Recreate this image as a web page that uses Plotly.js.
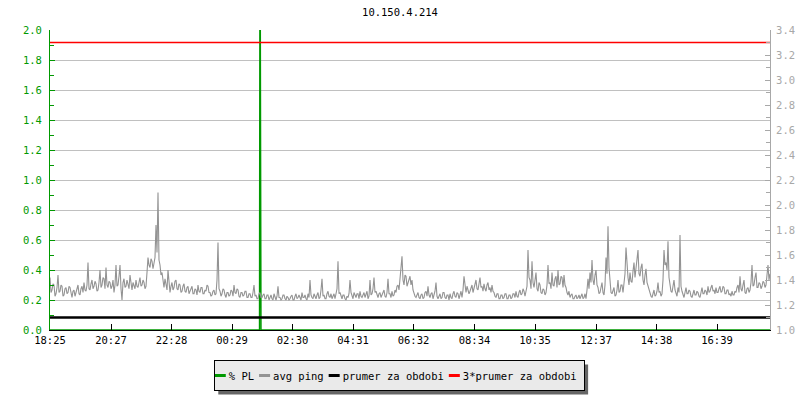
<!DOCTYPE html>
<html><head><meta charset="utf-8">
<script src="https://cdn.plot.ly/plotly-3.0.1.min.js"></script>
<style>html,body{margin:0;padding:0;background:#fff}#chart{width:800px;height:400px}</style>
</head><body><div id="chart"></div>
<script>
const chartTitle = '10.150.4.214';
const startLabel = '18:25';
const periodMinutes = 1440;
const sampleStep = 2; // minutes between ping samples
const pingValues = [
1.42,1.30,1.32,1.37,1.36,1.27,1.29,1.34,1.44,1.30,1.31,1.36,1.35,1.27,1.28,1.33,1.34,1.29,1.30,1.35,
1.34,1.29,1.26,1.31,1.32,1.27,1.30,1.35,1.36,1.29,1.28,1.33,1.35,1.30,1.38,1.32,1.31,1.36,1.54,1.33,
1.32,1.37,1.40,1.33,1.35,1.39,1.37,1.31,1.32,1.38,1.48,1.34,1.36,1.42,1.41,1.33,1.50,1.36,1.34,1.39,
1.38,1.33,1.35,1.40,1.30,1.36,1.52,1.35,1.36,1.43,1.52,1.33,1.24,1.38,1.41,1.34,1.35,1.40,1.37,1.33,
1.44,1.36,1.32,1.38,1.36,1.33,1.40,1.35,1.34,1.39,1.42,1.35,1.36,1.40,1.38,1.33,1.35,1.46,1.58,1.52,
1.50,1.57,1.55,1.49,1.53,1.58,1.84,1.62,2.10,1.56,1.52,1.44,1.46,1.38,1.34,1.41,1.37,1.32,1.48,1.36,
1.30,1.35,1.38,1.32,1.34,1.39,1.40,1.33,1.32,1.37,1.36,1.30,1.31,1.35,1.37,1.31,1.30,1.34,1.35,1.29,
1.31,1.34,1.35,1.29,1.29,1.33,1.32,1.28,1.36,1.31,1.30,1.34,1.34,1.29,1.29,1.32,1.31,1.36,1.35,1.30,
1.30,1.27,1.28,1.31,1.32,1.28,1.29,1.40,1.70,1.33,1.31,1.27,1.29,1.33,1.32,1.28,1.26,1.30,1.30,1.27,
1.28,1.32,1.31,1.27,1.36,1.30,1.29,1.33,1.32,1.27,1.26,1.30,1.30,1.27,1.28,1.31,1.31,1.26,1.26,1.29,
1.29,1.26,1.26,1.30,1.36,1.27,1.28,1.25,1.25,1.29,1.30,1.26,1.26,1.28,1.29,1.25,1.25,1.28,1.28,1.24,
1.26,1.28,1.25,1.24,1.29,1.26,1.24,1.27,1.35,1.26,1.26,1.24,1.25,1.28,1.28,1.25,1.24,1.27,1.26,1.24,
1.25,1.27,1.28,1.24,1.24,1.27,1.29,1.25,1.26,1.28,1.25,1.24,1.30,1.26,1.26,1.28,1.25,1.24,1.29,1.26,
1.40,1.28,1.26,1.25,1.29,1.27,1.25,1.28,1.30,1.25,1.26,1.32,1.41,1.27,1.28,1.25,1.25,1.29,1.31,1.27,
1.26,1.29,1.25,1.27,1.29,1.25,1.28,1.33,1.55,1.29,1.30,1.26,1.25,1.28,1.28,1.25,1.24,1.27,1.26,1.29,
1.40,1.30,1.28,1.25,1.30,1.27,1.26,1.29,1.29,1.25,1.31,1.27,1.26,1.28,1.30,1.26,1.28,1.31,1.25,1.27,
1.40,1.28,1.29,1.33,1.42,1.30,1.31,1.27,1.26,1.29,1.30,1.26,1.28,1.31,1.32,1.27,1.26,1.30,1.41,1.29,
1.29,1.26,1.31,1.27,1.28,1.32,1.30,1.35,1.36,1.32,1.41,1.45,1.59,1.40,1.36,1.44,1.43,1.35,1.38,1.42,
1.43,1.36,1.40,1.32,1.29,1.27,1.26,1.29,1.30,1.26,1.25,1.28,1.29,1.25,1.26,1.30,1.31,1.27,1.35,1.28,
1.26,1.29,1.30,1.25,1.28,1.31,1.38,1.27,1.25,1.28,1.29,1.25,1.26,1.30,1.30,1.26,1.25,1.28,1.28,1.24,
1.29,1.26,1.25,1.29,1.31,1.27,1.26,1.30,1.29,1.25,1.28,1.31,1.26,1.32,1.43,1.33,1.30,1.35,1.32,1.29,
1.31,1.35,1.36,1.30,1.34,1.38,1.40,1.33,1.32,1.37,1.42,1.34,1.35,1.31,1.37,1.33,1.31,1.36,1.38,1.32,
1.34,1.30,1.36,1.31,1.30,1.27,1.26,1.29,1.29,1.25,1.25,1.28,1.28,1.25,1.26,1.29,1.29,1.25,1.25,1.28,
1.28,1.25,1.26,1.29,1.29,1.26,1.31,1.27,1.26,1.30,1.32,1.28,1.29,1.33,1.31,1.27,1.30,1.35,1.64,1.42,
1.40,1.33,1.55,1.38,1.34,1.42,1.46,1.33,1.31,1.38,1.36,1.30,1.29,1.33,1.32,1.28,1.30,1.36,1.52,1.37,
1.38,1.33,1.46,1.36,1.35,1.41,1.43,1.34,1.48,1.36,1.37,1.43,1.42,1.34,1.44,1.36,1.34,1.30,1.28,1.31,
1.26,1.28,1.29,1.25,1.25,1.27,1.28,1.25,1.26,1.28,1.25,1.27,1.29,1.25,1.26,1.29,1.25,1.32,1.41,1.33,
1.46,1.38,1.56,1.40,1.36,1.44,1.48,1.36,1.34,1.29,1.30,1.34,1.38,1.30,1.28,1.36,1.58,1.45,1.83,1.50,
1.36,1.30,1.29,1.33,1.34,1.27,1.28,1.32,1.40,1.30,1.31,1.36,1.36,1.30,1.38,1.45,1.66,1.47,1.42,1.36,
1.46,1.39,1.38,1.47,1.54,1.42,1.48,1.56,1.64,1.45,1.43,1.50,1.53,1.40,1.36,1.44,1.49,1.38,1.35,1.31,
1.30,1.27,1.26,1.29,1.32,1.27,1.28,1.31,1.38,1.30,1.31,1.27,1.29,1.40,1.64,1.52,1.54,1.48,1.71,1.42,
1.36,1.31,1.30,1.35,1.40,1.32,1.29,1.27,1.34,1.30,1.76,1.35,1.31,1.28,1.26,1.30,1.34,1.29,1.29,1.32,
1.31,1.27,1.26,1.29,1.32,1.28,1.28,1.31,1.30,1.27,1.26,1.30,1.34,1.29,1.29,1.32,1.31,1.28,1.35,1.30,
1.31,1.34,1.36,1.31,1.32,1.29,1.34,1.30,1.30,1.33,1.35,1.30,1.31,1.35,1.34,1.29,1.29,1.32,1.32,1.28,
1.29,1.27,1.31,1.28,1.28,1.31,1.30,1.34,1.36,1.30,1.43,1.33,1.31,1.36,1.40,1.30,1.29,1.33,1.34,1.30,
1.32,1.38,1.52,1.35,1.36,1.42,1.46,1.34,1.34,1.38,1.37,1.33,1.35,1.39,1.38,1.34,1.36,1.44,1.52,1.40,
1.45
];
const plMinutes = [0, 419, 420, 421, 422, 1440];
const plValues  = [0, 0, 3, 1, 0, 0];
const avgMinutes = [0, 1440];
const avgPing = 1.1;
const avgPing3 = 3.3;
const tickLabels = ['18:25','20:27','22:28','00:29','02:30','04:31','06:32','08:34','10:35','12:37','14:38','16:39'];
const seriesNames = ['% PL', 'avg ping', 'prumer za obdobi', '3*prumer za obdobi'];

const toMin = s => { const [h, m] = s.split(':').map(Number); return h * 60 + m; };
const start = toMin(startLabel);
const tickVals = tickLabels.map(s => (toMin(s) - start + 1440) % 1440);
const pingMinutes = pingValues.map((_, i) => i * sampleStep);

const FONT = 'DejaVu Sans Mono, monospace';
const FS = 10.5;
const GREEN = '#009900', GREY = '#939393', LGREY = '#a8a8a8';

const traces = [
  {x: pingMinutes, y: pingValues, yaxis: 'y2', type: 'scatter', mode: 'lines', name: seriesNames[1],
   line: {color: GREY, width: 1.1, shape: 'linear'}, legendrank: 2},
  {x: avgMinutes, y: avgMinutes.map(() => avgPing), yaxis: 'y2', type: 'scatter', mode: 'lines', name: seriesNames[2],
   line: {color: '#000000', width: 2.5}, legendrank: 3},
  {x: avgMinutes, y: avgMinutes.map(() => avgPing3), yaxis: 'y2', type: 'scatter', mode: 'lines', name: seriesNames[3],
   line: {color: '#ff0000', width: 1.3}, legendrank: 4},
  {x: plMinutes, y: plValues, yaxis: 'y', type: 'scatter', mode: 'lines', name: seriesNames[0],
   line: {color: GREEN, width: 1.4}, legendrank: 1}
];

const layout = {
  width: 800, height: 400,
  margin: {l: 50, r: 30, t: 30, b: 70, pad: 0, autoexpand: false},
  paper_bgcolor: '#ffffff', plot_bgcolor: '#ffffff',
  font: {family: FONT, size: FS, color: '#000'},
  title: {text: chartTitle, x: 0.5, xanchor: 'center', y: 0.97, yanchor: 'middle', yref: 'container',
          font: {family: FONT, size: FS, color: '#000'}},
  showlegend: true,
  legend: {orientation: 'h', x: 0.485, xanchor: 'center', y: -0.1, yanchor: 'top',
           bgcolor: '#eaeaea', bordercolor: '#000', borderwidth: 1,
           font: {family: FONT, size: FS, color: '#000'}, traceorder: 'normal', itemwidth: 30},
  xaxis: {range: [0, periodMinutes], tickmode: 'array', tickvals: tickVals, ticktext: tickLabels,
          showgrid: false, zeroline: false, showline: true, linecolor: '#000', linewidth: 1,
          ticks: 'inside', ticklen: 6, tickcolor: '#000', tickfont: {family: FONT, size: FS, color: '#000'},
          fixedrange: true},
  yaxis: {range: [0, 2], dtick: 0.2, tick0: 0, tickformat: '.1f', showgrid: true, gridcolor: '#c0c0c0', gridwidth: 1,
          zeroline: false, showline: true, linecolor: GREEN, linewidth: 1,
          ticks: 'inside', ticklen: 5, tickcolor: GREEN, ticklabelstandoff: 5,
          tickfont: {family: FONT, size: FS, color: GREEN},
          minor: {dtick: 0.1, ticks: 'inside', ticklen: 4, tickcolor: GREEN, showgrid: false}},
  yaxis2: {range: [1.0, 3.4], dtick: 0.2, tick0: 1.0, tickformat: '.1f', overlaying: 'y', side: 'right',
           showgrid: false, zeroline: false, showline: true, linecolor: LGREY, linewidth: 1,
           ticks: 'inside', ticklen: 5, tickcolor: LGREY, ticklabelstandoff: 3,
           tickfont: {family: FONT, size: FS, color: LGREY},
           minor: {dtick: 0.1, ticks: 'inside', ticklen: 4, tickcolor: LGREY, showgrid: false}}
};

function compactLegend(gd) {
  const SVGNS = 'http://www.w3.org/2000/svg';
  const leg = gd.querySelector('.legend');
  if (!leg) return;
  const bg = leg.querySelector('rect.bg');
  const items = Array.from(leg.querySelectorAll('g.traces'));
  if (!bg || !items.length) return;
  const oldW = parseFloat(bg.getAttribute('width'));
  const m0 = /translate\(\s*([-\d.]+)[ ,]+([-\d.]+)\s*\)/.exec(leg.getAttribute('transform') || '');
  let x = null;
  items.forEach(it => {
    const mt = /translate\(\s*([-\d.]+)[ ,]+([-\d.]+)\s*\)/.exec(it.getAttribute('transform') || '');
    if (!mt) return;
    if (x === null) x = parseFloat(mt[1]);
    it.querySelectorAll('path.js-line').forEach(p => {
      p.setAttribute('d', 'M0,0h11');
      p.style.strokeWidth = '3px';
    });
    const txt = it.querySelector('text.legendtext');
    txt.setAttribute('x', 14);
    const tw = txt.getComputedTextLength();
    it.setAttribute('transform', 'translate(' + x + ',' + mt[2] + ')');
    const tog = it.querySelector('rect.legendtoggle');
    if (tog) tog.setAttribute('width', 14 + tw);
    x += 14 + tw + 5;
  });
  const newW = x + 2;
  bg.setAttribute('width', newW);
  if (m0) {
    const lx = parseFloat(m0[1]) + (oldW - newW) / 2;
    leg.setAttribute('transform', 'translate(' + lx + ',' + m0[2] + ')');
  }
  const sh = document.createElementNS(SVGNS, 'rect');
  sh.setAttribute('x', (parseFloat(bg.getAttribute('x')) || 0) + 4);
  sh.setAttribute('y', (parseFloat(bg.getAttribute('y')) || 0) + 4);
  sh.setAttribute('width', newW);
  sh.setAttribute('height', bg.getAttribute('height'));
  sh.setAttribute('fill', '#666666');
  leg.insertBefore(sh, bg);
}

Plotly.newPlot('chart', traces, layout, {staticPlot: true, displayModeBar: false}).then(gd => {
  try { compactLegend(gd); } catch (e) { console.error(e); }
});
</script>
</body></html>
